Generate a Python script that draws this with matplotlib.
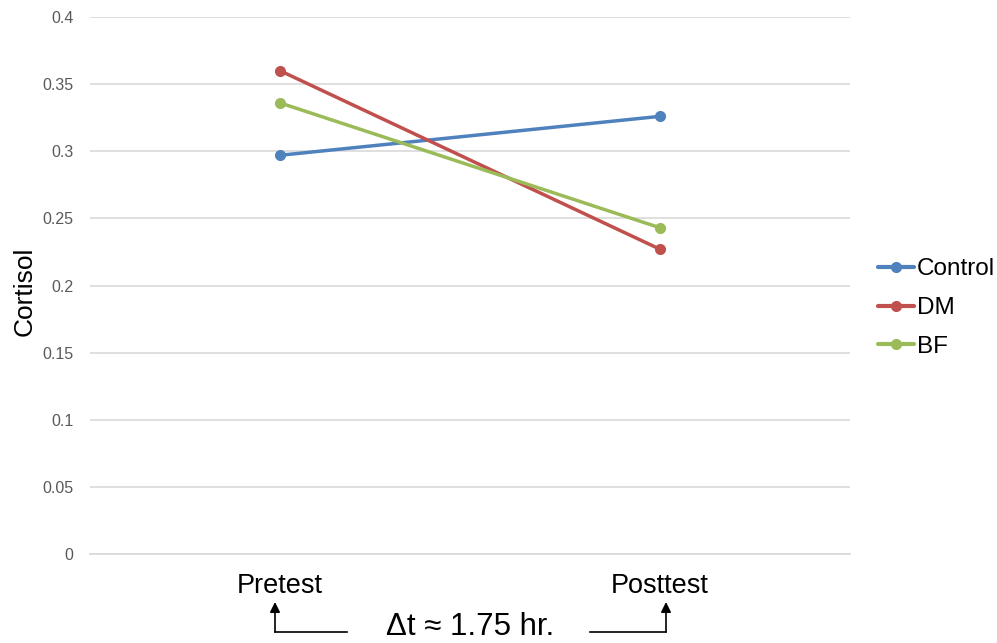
import matplotlib.pyplot as plt

plt.rcParams["font.family"] = ["Liberation Sans", "DejaVu Sans"]

phases = ["Pretest", "Posttest"]
control = [0.297, 0.326]
dm = [0.360, 0.227]
bf = [0.336, 0.243]
yticks = [0, 0.05, 0.1, 0.15, 0.2, 0.25, 0.3, 0.35, 0.4]
ytick_labels = ["0", "0.05", "0.1", "0.15", "0.2", "0.25", "0.3", "0.35", "0.4"]

series = [
    ("Control", control, "#4f81bd"),
    ("DM", dm, "#c0504d"),
    ("BF", bf, "#9bbb59"),
]

W, H = 997, 643
fig = plt.figure(figsize=(W / 100, H / 100), dpi=100)
ax = fig.add_axes([90 / W, 1 - 554 / H, 760 / W, 537 / H])

x = list(range(len(phases)))
for name, vals, color in series:
    ax.plot(x, vals, "-o", color=color, lw=2.5, ms=7, label=name,
            solid_capstyle="round", zorder=3)

ax.set_xlim(-0.5, len(phases) - 0.5)
ax.set_ylim(0, 0.4)
ax.set_yticks(yticks, ytick_labels)
ax.set_xticks(x, phases)
ax.grid(axis="y", color="#d9d9d9", lw=1.2)
ax.set_axisbelow(True)
for side in ["top", "right", "left"]:
    ax.spines[side].set_visible(False)
ax.spines["bottom"].set_color("#d9d9d9")
ax.spines["bottom"].set_linewidth(1.2)
ax.tick_params(axis="y", length=0, pad=12, labelsize=11.5, labelcolor="#595959")
ax.tick_params(axis="x", length=0, pad=14, labelsize=19.5, labelcolor="black")
ax.set_ylabel("Cortisol", fontsize=19)
ax.yaxis.set_label_coords((37 - 90) / 760, 0.49)

leg = ax.legend(loc="center left", bbox_to_anchor=(868 / W, 1 - 308 / H),
                bbox_transform=fig.transFigure, frameon=False, fontsize=17.5,
                handlelength=1.5, handletextpad=0.1, labelspacing=0.68,
                borderaxespad=0)
for line in leg.get_lines():
    line.set_linewidth(3)

# elapsed-time note with bent arrows pointing at both sessions
fig.text(470 / W, 1 - 627 / H, "\u0394t \u2248 1.75 hr.", fontsize=22.5,
         ha="center", va="center")
arrow = dict(arrowstyle="-|>", color="black", lw=1.2, mutation_scale=15,
             shrinkA=0, shrinkB=0)
fig.add_artist(plt.Line2D([275 / W, 347 / W], [1 - 632 / H, 1 - 632 / H],
                          color="black", lw=1.2))
ax.annotate("", xy=(275 / W, 1 - 602 / H), xytext=(275 / W, 1 - 632 / H),
            xycoords="figure fraction", arrowprops=arrow, annotation_clip=False)
fig.add_artist(plt.Line2D([590 / W, 666 / W], [1 - 632 / H, 1 - 632 / H],
                          color="black", lw=1.2))
ax.annotate("", xy=(666 / W, 1 - 602 / H), xytext=(666 / W, 1 - 632 / H),
            xycoords="figure fraction", arrowprops=arrow, annotation_clip=False)

fig.savefig("out.png", dpi=100)
